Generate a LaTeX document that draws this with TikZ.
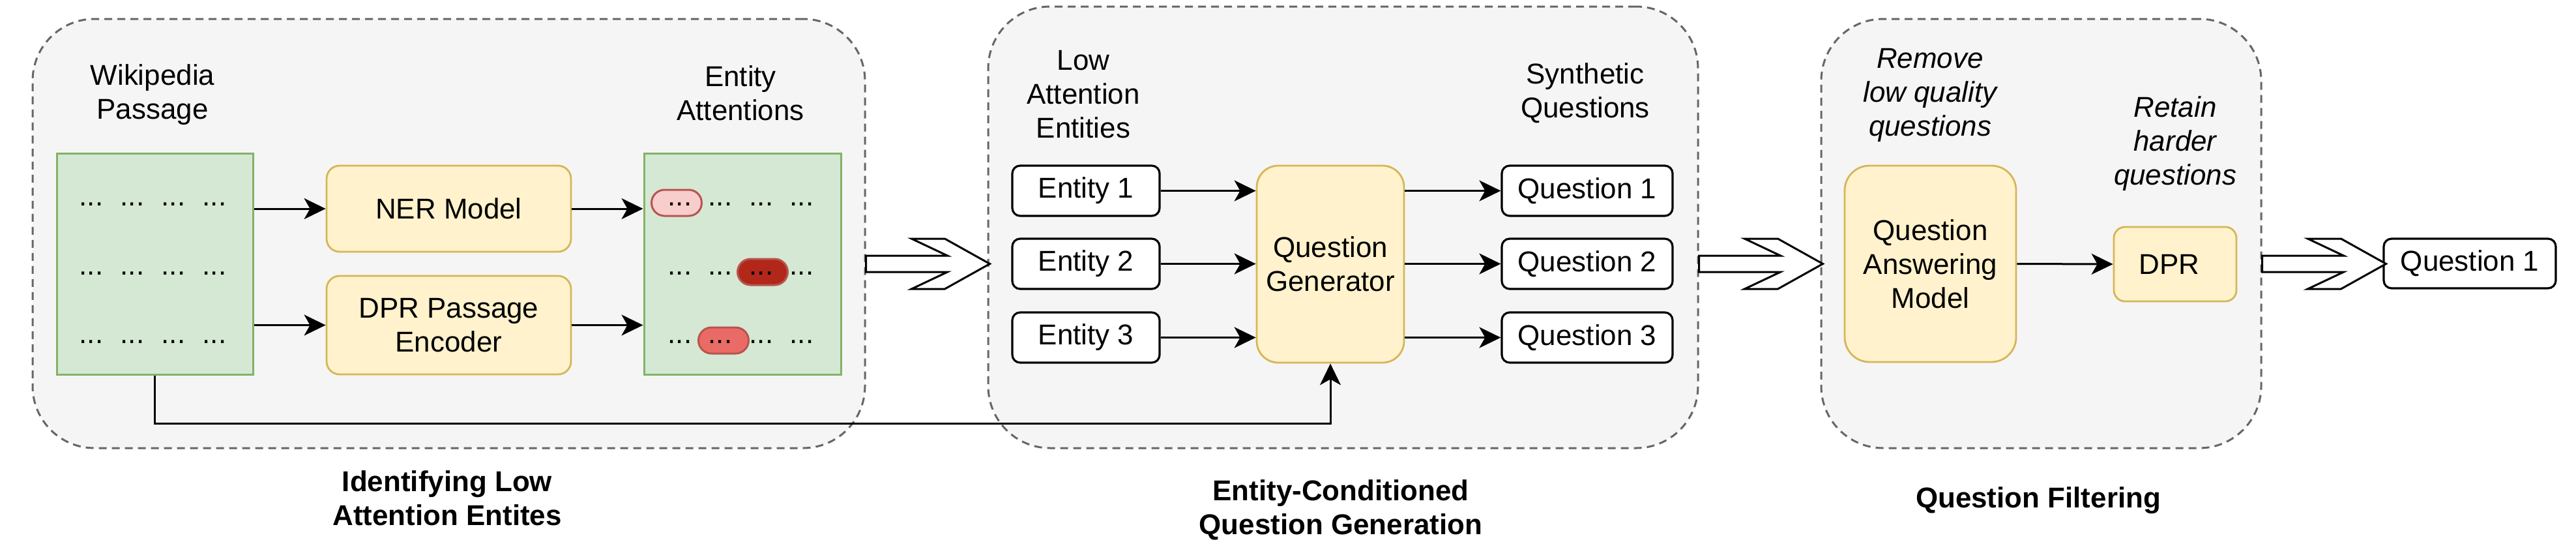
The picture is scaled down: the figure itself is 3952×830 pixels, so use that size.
\documentclass[tikz,border=0pt]{standalone}
\usepackage{fontspec}
\setmainfont{Liberation Sans}
\usetikzlibrary{arrows.meta}
\definecolor{grpfill}{HTML}{F5F5F5}
\definecolor{grpdraw}{HTML}{666666}
\definecolor{grnf}{HTML}{D5E8D4}
\definecolor{grnd}{HTML}{82B366}
\definecolor{yelf}{HTML}{FFF2CC}
\definecolor{yeld}{HTML}{D6B656}
\definecolor{pilld}{HTML}{B85450}
\definecolor{pinkf}{HTML}{F8CECC}
\definecolor{darkredf}{HTML}{B1271A}
\definecolor{redf}{HTML}{EA6B66}
\newcommand\myfs{\fontsize{12.5}{14.8}\selectfont}
\tikzset{
  grp/.style={draw=grpdraw, fill=grpfill, dash pattern=on 1.2mm off 0.8mm, line width=0.3mm, rounded corners=9.5mm, inner sep=0},
  greenbox/.style={draw=grnd, fill=grnf, line width=0.3mm, inner sep=0},
  yellowbox/.style={draw=yeld, fill=yelf, line width=0.28mm, align=center, inner sep=0},
  whitebox/.style={draw=black, fill=white, line width=0.32mm, rounded corners=1.2mm, inner sep=0},
  pill/.style={draw=pilld, line width=0.3mm, rounded corners=2mm, minimum width=7.7mm, minimum height=4mm, inner sep=0},
  lbl/.style={align=center, inner sep=0},
  arr/.style={-{Stealth[length=3.3mm,width=3.2mm,inset=0.9mm]}, line width=0.3mm},
  dotstext/.style={anchor=base, inner sep=0},
  blockarr/.pic={\draw[line width=0.3mm, fill=white] (0,-12.5) -- (125,-12.5) -- (70,-38.5) -- (121,-38.5) -- (190,0) -- (121,38.5) -- (70,38.5) -- (125,12.5) -- (0,12.5) -- cycle;}
}
\begin{document}
\begin{tikzpicture}[x=0.1mm,y=-0.1mm,font=\myfs]
\useasboundingbox[fill=white] (0,0) rectangle (3952,830);

% groups
\node[grp, minimum width=127.7mm, minimum height=65.8mm] (g1) at (688.5,358) {};
\node[grp, minimum width=108.9mm, minimum height=67.7mm] (g2) at (2060.5,348.5) {};
\node[grp, minimum width=67.5mm, minimum height=65.8mm] (g3) at (3131.5,358) {};

% group 1
\node[lbl] (wpl) at (234,145) {Wikipedia\\Passage};
\node[lbl] (eal) at (1136,143) {Entity\\Attentions};
\node[greenbox, minimum width=30.1mm, minimum height=33.9mm] (pass) at (237.5,404.5) {};
\node[greenbox, minimum width=30.2mm, minimum height=33.9mm] (att) at (1139,404.5) {};
\node[yellowbox, rounded corners=2mm, minimum width=37.5mm, minimum height=13.2mm] (ner) at (688.5,320) {NER Model};
\node[yellowbox, rounded corners=2mm, minimum width=37.5mm, minimum height=15.1mm] (dprenc) at (688.5,498.5) {DPR Passage\\Encoder};

\foreach \r/\y in {1/315,2/421,3/526}{
  \foreach \c/\x in {1/140,2/203,3/266,4/329}{
    \node[dotstext] (ld\r\c) at (\x,\y) {...};
  }
}
\node[pill, fill=pinkf] (p1) at (1038,311) {};
\node[pill, fill=darkredf] (p2) at (1170,417) {};
\node[pill, fill=redf] (p3) at (1110,522) {};
\foreach \r/\c/\x/\y in {1/1/1043/315,1/2/1105/315,1/3/1168/315,1/4/1230/315,
                         2/1/1043/421,2/2/1105/421,2/3/1168/421,2/4/1230/421,
                         3/1/1043/526,3/2/1105/526,3/3/1168/526,3/4/1230/526}{
  \node[dotstext] (rd\r\c) at (\x,\y) {...};
}

\draw[arr] (pass.east |- ner) -- (ner.west);
\draw[arr] (pass.east |- dprenc) -- (dprenc.west);
\draw[arr] (ner.east) -- (att.west |- ner);
\draw[arr] (dprenc.east) -- (att.west |- dprenc);

% group 2
\node[lbl] (lael) at (1662,144.5) {Low\\Attention\\Entities};
\node[lbl] (sql) at (2432,143) {Synthetic\\Questions};
\node[whitebox, minimum width=22.6mm, minimum height=7.7mm] (e1) at (1666,292.5) {Entity 1};
\node[whitebox, minimum width=22.6mm, minimum height=7.7mm] (e2) at (1666,404.5) {Entity 2};
\node[whitebox, minimum width=22.6mm, minimum height=7.7mm] (e3) at (1666,517.5) {Entity 3};
\node[yellowbox, rounded corners=3.3mm, minimum width=22.6mm, minimum height=30.2mm] (qg) at (2041,405) {Question\\Generator};
\node[whitebox, minimum width=26.2mm, minimum height=7.7mm] (q1) at (2435,292.5) {Question 1};
\node[whitebox, minimum width=26.2mm, minimum height=7.7mm] (q2) at (2435,404.5) {Question 2};
\node[whitebox, minimum width=26.2mm, minimum height=7.7mm] (q3) at (2435,517.5) {Question 3};
\foreach \i in {1,2,3}{
  \draw[arr] (e\i.east) -- (qg.west |- e\i.east);
  \draw[arr] (qg.east |- q\i.west) -- (q\i.west);
}

% group 3
\node[lbl, font=\myfs\itshape] (rml) at (2961,145.5) {Remove\\low quality\\questions};
\node[lbl, font=\myfs\itshape] (rtl) at (3337,220) {Retain\\harder\\questions};
\node[yellowbox, rounded corners=3.8mm, minimum width=26.3mm, minimum height=30.1mm] (qa) at (2961.5,404.5) {Question\\Answering\\Model};
\node[yellowbox, rounded corners=1.7mm, minimum width=18.8mm, minimum height=11.4mm] (dpr) at (3337,405) {\hspace*{-1.8mm}DPR};
\draw[arr] (qa.east) -- (dpr.west);

\node[whitebox, minimum width=26.4mm, minimum height=7.6mm] (fq) at (3789,404) {Question 1};

% bottom connector
\coordinate (low) at (0,649);
\draw[arr] (pass.south) -- (pass.south |- low) -| (qg.south);

% block arrows
\pic at (g1.east |- pass.center) {blockarr};
\pic at (g2.east |- pass.center) {blockarr};
\pic at (g3.east |- pass.center) {blockarr};

% titles
\node[lbl, font=\myfs\bfseries] (t1) at (686,764) {Identifying Low\\Attention Entites};
\node[lbl, font=\myfs\bfseries] (t2) at (2057,782) {Entity-Conditioned\\Question Generation};
\node[lbl, font=\myfs\bfseries] (t3) at (3127,767) {Question Filtering};
\end{tikzpicture}
\end{document}
